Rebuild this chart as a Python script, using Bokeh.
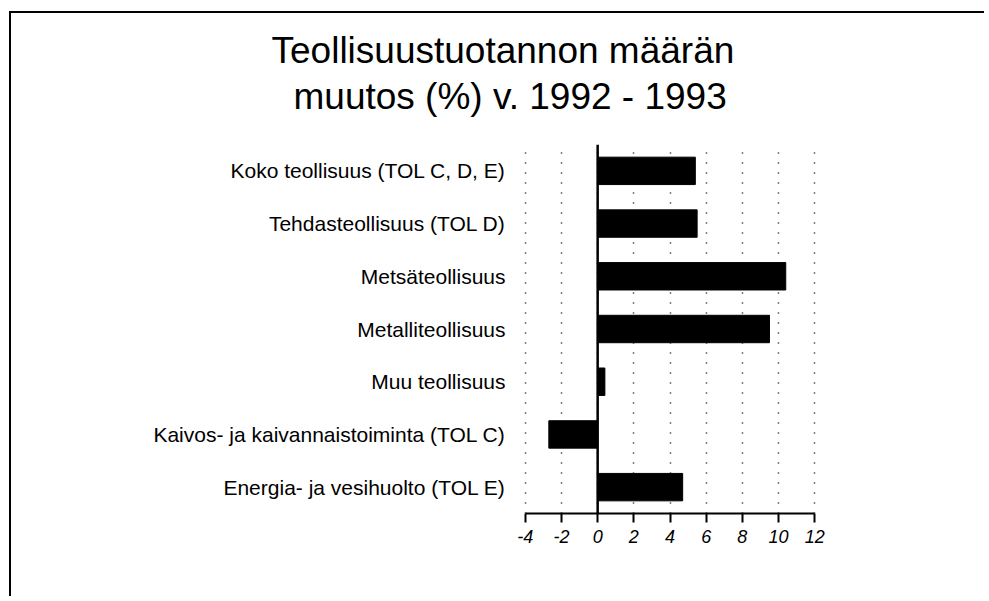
from bokeh.plotting import figure
from bokeh.models import Range1d, FactorRange, FixedTicker, Span, Title
from bokeh.embed import file_html
from bokeh.resources import INLINE

categories = [
    "Koko teollisuus (TOL C, D, E)",
    "Tehdasteollisuus (TOL D)",
    "Metsäteollisuus",
    "Metalliteollisuus",
    "Muu teollisuus",
    "Kaivos- ja kaivannaistoiminta (TOL C)",
    "Energia- ja vesihuolto (TOL E)",
]
values = [5.4, 5.5, 10.4, 9.5, 0.4, -2.7, 4.7]
x_ticks = [-4, -2, 0, 2, 4, 6, 8, 10, 12]
title_lines = ["Teollisuustuotannon määrän", "muutos (%) v. 1992 - 1993"]

FONT = "Liberation Sans"

p = figure(
    width=975, height=585,
    x_range=Range1d(x_ticks[0] - 0.1, x_ticks[-1] + 0.1),
    y_range=FactorRange(factors=list(reversed(categories))),
    output_backend="svg", toolbar_location=None, title_location=None,
    min_border_left=512, min_border_right=170,
    min_border_top=131, min_border_bottom=85,
)
p.styles = {"border-left": "2px solid black", "border-top": "2px solid black",
            "margin-left": "9px", "margin-top": "11px"}
p.outline_line_color = None
p.background_fill_color = "white"
p.border_fill_color = "white"

p.ygrid.grid_line_color = None
p.xgrid.ticker = FixedTicker(ticks=x_ticks)
p.xgrid.grid_line_color = "black"
p.xgrid.grid_line_width = 1.5
p.xgrid.grid_line_dash = "1 9"

p.hbar(y=categories, left=0, right=values, height=0.52,
       fill_color="black", line_color="black")

p.add_layout(Span(location=0, dimension="height", line_color="black", line_width=2.5))

xa = p.xaxis[0]
xa.ticker = FixedTicker(ticks=x_ticks)
xa.bounds = (x_ticks[0], x_ticks[-1])
xa.major_label_overrides = {t: str(t) for t in x_ticks}
xa.axis_line_width = 2
xa.major_tick_line_width = 2
xa.major_tick_in = 0
xa.major_tick_out = 9
xa.minor_tick_line_color = None
xa.major_label_text_font = FONT
xa.major_label_text_font_style = "italic"
xa.major_label_text_font_size = "18px"
xa.major_label_text_color = "black"
xa.major_label_standoff = 7

ya = p.yaxis[0]
ya.axis_line_color = None
ya.major_tick_line_color = None
ya.minor_tick_line_color = None
ya.major_label_text_font = FONT
ya.major_label_text_font_size = "21px"
ya.major_label_text_color = "black"
ya.major_label_standoff = 12

t2 = Title(text=title_lines[1], align="left", offset=-230, standoff=56,
           text_font=FONT, text_font_size="37px", text_font_style="normal", text_color="black")
p.add_layout(t2, "above")
t1 = Title(text=title_lines[0], align="left", offset=-252, standoff=-50,
           text_font=FONT, text_font_size="37px", text_font_style="normal", text_color="black")
p.add_layout(t1, "above")

open("out.html", "w").write(file_html(p, INLINE))
